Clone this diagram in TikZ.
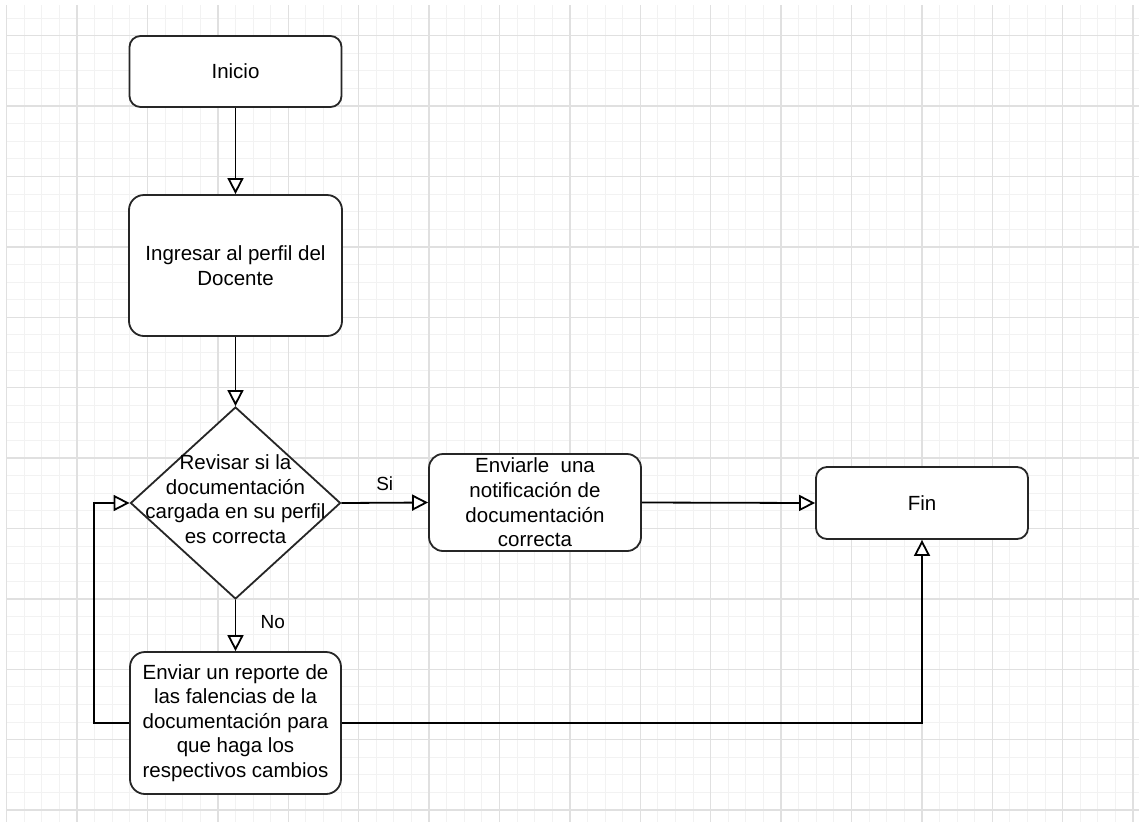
\documentclass[tikz,border=0pt]{standalone}
\usepackage{fontspec}
\setmainfont{Liberation Sans}
\usetikzlibrary{shapes.geometric, arrows.meta}

\begin{document}
\begin{tikzpicture}[x=1pt, y=-1pt,
  box/.style={draw=black!85, line width=1.8pt, rounded corners=11pt, fill=white, align=center, inner sep=0pt, font=\fontsize{20.5}{24.6}\selectfont},
  dia/.style={draw=black!85, line width=1.8pt, diamond, fill=white, inner sep=0pt},
  txt/.style={align=center, font=\fontsize{20.5}{24.6}\selectfont},
  lbl/.style={font=\fontsize{19}{23}\selectfont},
  arr/.style={line width=1.8pt, -{Triangle[length=16pt, width=16pt, fill=white]}},
  minor/.style={black!5, line width=1pt},
  major/.style={black!12, line width=1.3pt}]
\useasboundingbox (0,0) rectangle (1139,822);
\fill[white] (0,0) rectangle (1139,822);
\foreach \i in {0,...,64} \draw[minor] ({6.7+17.6*\i},5) -- ({6.7+17.6*\i},822);
\foreach \i in {0,...,45} \draw[minor] (6.7,{18.1+17.6*\i}) -- (1139,{18.1+17.6*\i});
\foreach \i in {0,...,16} \draw[major] ({6.7+70.4*\i},5) -- ({6.7+70.4*\i},822);
\foreach \i in {0,...,11} \draw[major] (6.7,{35.7+70.4*\i}) -- (1139,{35.7+70.4*\i});

\node[box, minimum width=212pt, minimum height=71pt] (b1) at (235.5,71.5) {Inicio};
\node[box, rounded corners=15pt, minimum width=213pt, minimum height=141pt] (b2) at (235.5,265.5) {Ingresar al perfil del\\Docente};
\node[dia, minimum width=210pt, minimum height=192pt] (d1) at (235.5,503) {};
\node[txt] (d1t) at (235.5,499) {Revisar si la\\documentación\\cargada en su perfil\\es correcta};
\node[box, rounded corners=14pt, minimum width=212pt, minimum height=97pt] (b3) at (535,502.5) {Enviarle\ \ una\\notificación de\\documentación\\correcta};
\node[box, minimum width=212pt, minimum height=72pt] (b4) at (922,503) {Fin};
\node[box, rounded corners=15pt, minimum width=211pt, minimum height=142pt] (b5) at (235.5,723) {Enviar un reporte de\\las falencias de la\\documentación para\\que haga los\\respectivos cambios};

\draw[arr] (b1.south) -- (b2.north);
\draw[arr] (b2.south) -- (d1.north);
\draw[arr] (d1.east) -- node[lbl, above=8pt] (l1) {Si} (b3.west);
\draw[arr] (d1.south) -- node[lbl, right=21pt, pos=0.43] (l2) {No} (b5.north);
\draw[arr] (b3.east) -- (b4.west);
\draw[arr] (b5.west) -- ++(-35.5,0) |- (d1.west);
\draw[arr] (b5.east) -| (b4.south);
\end{tikzpicture}
\end{document}
